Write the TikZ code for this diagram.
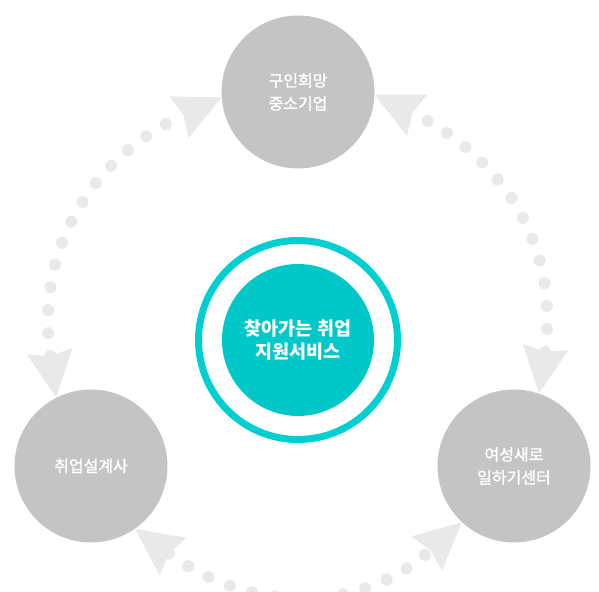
\documentclass[tikz,border=0pt]{standalone}
\usepackage{fontspec}
\newfontfamily\cjk{Noto Sans CJK KR}[FakeBold=1.3]
\newfontfamily\cjkb{Noto Sans CJK KR}
\usetikzlibrary{arrows.meta}
\definecolor{orgC}{HTML}{C4C4C4}
\definecolor{hubC}{HTML}{00C8C8}
\definecolor{ringC}{HTML}{00CFD2}
\definecolor{dotC}{HTML}{E9E9E9}
\tikzstyle{orgc}=[circle, fill=orgC, minimum size=153pt, inner sep=0pt, text=white, align=center, font=\cjk\fontsize{16pt}{23pt}\selectfont]
\tikzstyle{hubc}=[circle, fill=hubC, minimum size=152pt, inner sep=0pt, text=white, align=center, font=\cjkb\bfseries\fontsize{18.5pt}{23pt}\selectfont]
\tikzstyle{ringc}=[circle, draw=ringC, line width=7pt, minimum size=199pt, inner sep=0pt]
\tikzstyle{darrow}=[line width=12pt, color=dotC, line cap=round, dash pattern=on 0pt off 23pt, >={Stealth[length=47pt,width=46pt,inset=5pt,line width=0pt]}, <->]
\def\orgc{\node[style=orgc]}
\def\hubc{\node[style=hubc]}
\def\ringc{\node[style=ringc]}
\def\darrow{\draw[style=darrow]}

\begin{document}
\begin{tikzpicture}[x=1pt, y=1pt]
      \useasboundingbox (0,0) rectangle (599,591);
      % partners
      \orgc (seek)  at (298,499) {구인희망\\중소기업};
      \orgc (plan)  at (91,125)  {취업설계사};
      \orgc (women) at (514,125) {여성새로\\일하기센터};
      % centre
      \ringc (ring) at (298,251) {};
      \hubc  (hub)  at (298,251) {찾아가는 취업\\지원서비스};

      % dotted links
      \darrow (plan.117)  to [out=98,  in=205, looseness=1.1] (seek.184);
      \darrow (women.71)  to [out=82,  in=334, looseness=1.1] (seek.358);
      \darrow (plan.305)  to [out=-36, in=222, looseness=1.1] (women.227);
\end{tikzpicture}
\end{document}
